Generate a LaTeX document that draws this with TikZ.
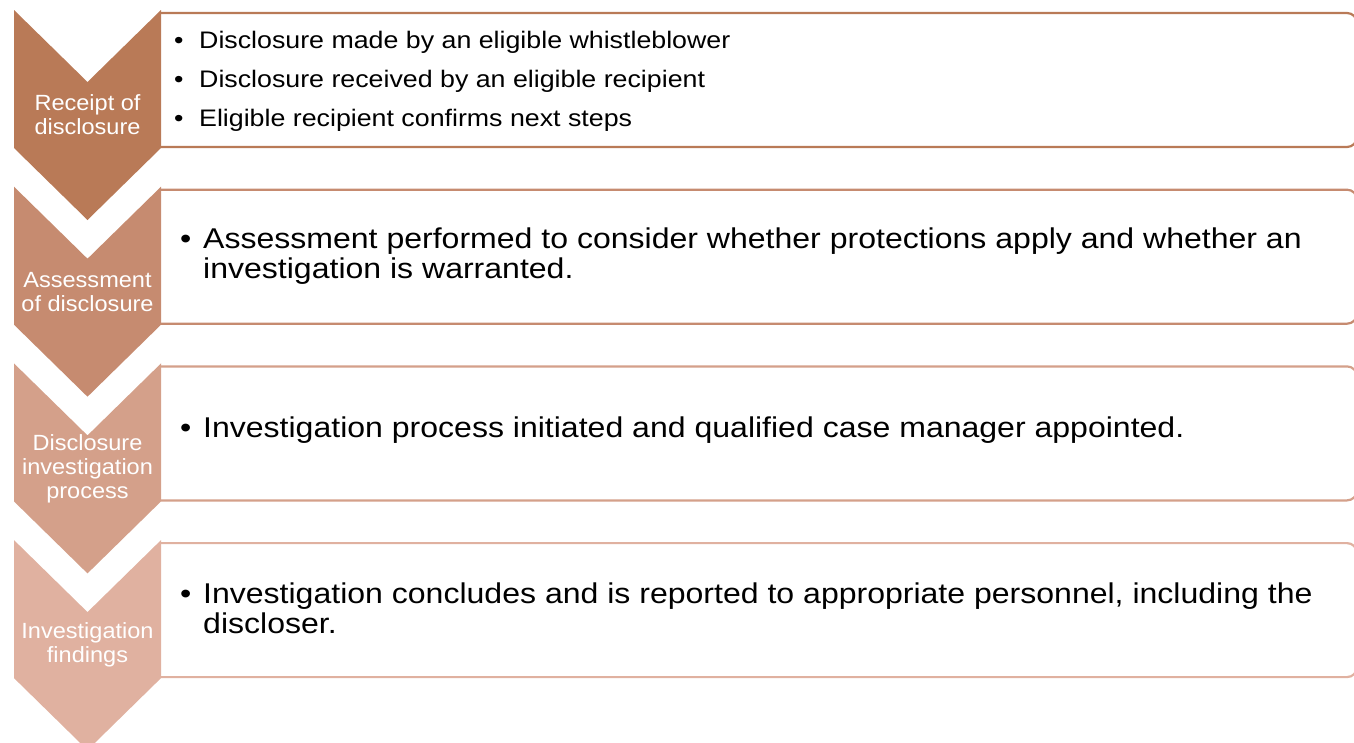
\documentclass[tikz,border=0pt]{standalone}
\usepackage{fontspec}
\setmainfont{Liberation Sans}[FakeStretch=1.07]
\newfontfamily\boxfont{Liberation Sans}[FakeStretch=1.12]
\usetikzlibrary{positioning}
\definecolor{stepA}{RGB}{185,122,87}
\definecolor{stepB}{RGB}{198,139,112}
\definecolor{stepC}{RGB}{212,160,138}
\definecolor{stepD}{RGB}{224,177,160}
\newcommand{\blt}[1]{\makebox[#1][l]{\textbullet}}

\begin{document}
\begin{tikzpicture}[x=1pt,y=-1pt,
  steptext/.style={align=center, text=white, inner sep=0pt,
    font=\fontsize{22}{24}\selectfont},
  bullets/.style={anchor=west, align=left, inner sep=0pt,
    font=\boxfont\fontsize{28.6}{30}\selectfont},
  smallbullets/.style={bullets, font=\boxfont\fontsize{23.9}{32}\selectfont}]
\useasboundingbox (0,0) rectangle (1354,742);
\foreach \i/\c in {0/stepA,1/stepB,2/stepC,3/stepD}{
  \pgfmathsetmacro{\t}{10+176.7*\i}
  \draw[draw=\c, line width=2.2pt, rounded corners=10pt]
    (161,\t+3) -- (1357,\t+3) -- (1357,\t+137) -- (161,\t+137);
  \fill[\c] (14,\t) -- (87.5,\t+72) -- (161,\t) -- (161,\t+138)
    -- (87.5,\t+210) -- (14,\t+138) -- cycle;
};
\node[steptext] (receipt) at (87.5,115) {Receipt of\\disclosure};
\node[steptext] (assess) at (87.5,292) {Assessment\\of disclosure};
\node[steptext] (process) at (87.5,469) {Disclosure\\investigation\\process};
\node[steptext] (findings) at (87.5,645) {Investigation\\findings};
\node[smallbullets] (receiptpts) at (174,81) {\blt{25pt}Disclosure made by an eligible whistleblower\\[7pt]
  \blt{25pt}Disclosure received by an eligible recipient\\[7pt]
  \blt{25pt}Eligible recipient confirms next steps};
\node[bullets] (assesspts) at (180,256) {\blt{23pt}Assessment performed to consider whether protections apply and whether an\\
  \hspace*{23pt}investigation is warranted.};
\node[bullets] (processpts) at (180,430) {\blt{23pt}Investigation process initiated and qualified case manager appointed.};
\node[bullets] (findingspts) at (180,608) {\blt{23pt}Investigation concludes and is reported to appropriate personnel, including the\\
  \hspace*{23pt}discloser.};
\end{tikzpicture}
\end{document}
